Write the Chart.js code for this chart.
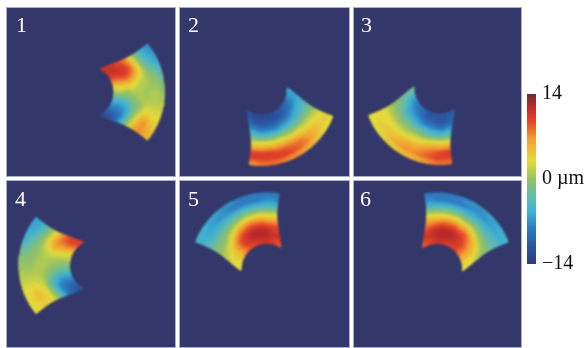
<!DOCTYPE html>
<html><head><meta charset="utf-8">
<script src="https://cdn.jsdelivr.net/npm/chart.js@4"></script>
<style>
html,body{margin:0;padding:0;background:#fff;width:586px;height:348px;overflow:hidden}
.panel{position:absolute;background:#34376a;box-shadow:0 0 0 1px #a9aed2;overflow:hidden}
.panel canvas{position:absolute;left:0;top:0;filter:blur(0.8px)}
.num{position:absolute;color:#fff;font:22px "Liberation Serif",serif;line-height:22px}
#cb{position:absolute;left:515px;top:76px}
</style></head><body>
<script>
// Displacement in micrometres. Rows run from the inner arc to the outer arc, columns across the sector.
const panel1Values=[
[11,11,10,7,3,1,-3,-6,-8,-10,-12],
[11,11,10,7,4,1,-3,-6,-8,-9,-11],
[10,11,10,7,3,0,-2,-5,-7,-8,-9],
[9,10,9,6,3,1,-1,-3,-5,-5,-5],
[7,8,7,4,2,1,0,-1,-1,-1,-1],
[3,4,4,2,1,1,1,0,1,3,4],
[-1,0,1,1,1,0,1,2,4,6,6],
[-4,-3,-2,0,0,1,1,2,4,7,7],
[-6,-5,-3,-1,0,1,1,2,3,5,6],
[-7,-6,-5,-3,-1,0,1,2,3,4,5]];
const panel2Values=[
[-6,-7,-9,-10,-11,-11,-12,-12,-12,-12,-11],
[-6,-7,-8,-9,-10,-11,-11,-11,-11,-11,-10],
[-5,-5,-6,-7,-8,-8,-9,-9,-9,-9,-8],
[-4,-4,-4,-5,-5,-5,-6,-6,-6,-6,-5],
[-2,-2,-2,-2,-2,-1,-1,-2,-2,-2,-2],
[0,1,1,2,2,2,3,3,3,3,3],
[2,3,3,4,5,6,6,6,6,6,6],
[3,4,5,6,8,8,9,9,10,10,10],
[4,4,5,7,8,9,10,10,10,10,10],
[3,3,4,5,6,7,7,8,8,8,7]];
const panel3Values=[
[-10,-11,-11,-11,-11,-10,-9,-8,-7,-5,-2],
[-10,-11,-11,-10,-10,-9,-8,-7,-6,-4,-2],
[-8,-9,-9,-8,-8,-7,-6,-6,-5,-3,-2],
[-5,-6,-5,-5,-4,-4,-4,-3,-3,-2,-1],
[-2,-2,-2,-2,-1,-1,-1,-1,-1,0,0],
[3,3,3,2,2,2,1,1,1,1,1],
[6,6,6,5,4,4,3,3,3,3,3],
[10,9,8,7,6,6,5,4,4,3,3],
[10,10,9,8,7,7,6,5,4,4,3],
[8,8,7,6,5,5,4,4,3,3,3]];
const panel4Values=[
[-11,-10,-8,-6,-3,-1,1,3,6,9,10],
[-10,-9,-8,-6,-3,-1,1,3,6,9,10],
[-8,-8,-7,-5,-2,0,1,3,6,8,9],
[-4,-5,-5,-3,-1,0,1,3,6,7,7],
[0,-1,-2,-1,0,1,1,2,4,5,4],
[3,3,2,1,1,1,1,1,2,2,1],
[4,4,3,2,1,1,0,0,0,-1,-2],
[4,5,4,2,1,0,0,-1,-2,-3,-4],
[3,4,3,2,1,0,-1,-2,-3,-5,-6],
[3,3,3,2,1,0,-1,-3,-5,-6,-6]];
const panel5Values=[
[3,3,5,7,9,10,10,11,11,10,9],
[3,4,5,8,10,11,12,12,12,11,11],
[2,3,5,8,10,11,12,12,12,11,10],
[1,2,3,6,8,9,10,10,10,9,9],
[0,0,1,3,5,6,7,7,7,6,6],
[-1,-1,-1,0,1,2,3,3,3,3,3],
[-3,-3,-3,-3,-2,-2,-1,-1,-1,-1,-1],
[-4,-5,-5,-5,-5,-5,-5,-5,-5,-5,-5],
[-5,-6,-6,-7,-7,-8,-8,-8,-8,-7,-7],
[-5,-5,-6,-6,-7,-7,-8,-8,-8,-8,-8]];
const panel6Values=[
[9,10,11,11,10,10,10,8,6,4,3],
[11,11,12,12,12,11,10,9,6,4,3],
[10,11,12,12,12,11,10,8,6,4,2],
[8,9,10,10,10,9,9,7,5,3,1],
[6,6,7,7,7,6,6,4,2,1,0],
[3,3,3,3,3,2,2,1,0,-1,-1],
[-1,-1,-1,-1,-1,-2,-2,-2,-3,-3,-3],
[-5,-5,-5,-5,-5,-5,-5,-5,-5,-4,-4],
[-7,-8,-8,-8,-8,-7,-7,-7,-6,-6,-5],
[-8,-8,-8,-8,-7,-7,-7,-6,-6,-5,-5]];
const panelLabels=["1","2","3","4","5","6"];
const colorbarTicks=[-14,0,14];
const colorbarLabels=["\u221214","0 \u00b5m","14"];
const colorStops=[-14,-11,-8,-5.5,-3,0,3,6.5,9.5,12,14];
const colorHex=["#2c3a7c","#2c55a0","#2f7cc0","#3eb0d6","#62bcae","#95c265","#e6dd3c","#f5a030","#e4442a","#b82a2a","#6a2c30"];

// Layout
const panelValues=[panel1Values,panel2Values,panel3Values,panel4Values,panel5Values,panel6Values];
const boxes=[[7,8,168,168],[180,8,169,168],[354,8,167,168],[7,181,168,166],[180,181,169,166],[354,181,167,166]];
const centres=[[88,92,0],[261.4,89,60],[440,88,120],[95.5,265.5,180],[267,269.4,240],[436.8,269.5,300]];
const labelAt=[[16,14],[188,14],[361,14],[15,188],[188,188],[360,188]];
const rInner=26,rOuter=76.5,subRows=3,subCols=2;

function rgb(h){return [1,3,5].map(i=>parseInt(h.substr(i,2),16));}
function colourOf(v){
  for(let i=1;i<colorStops.length;i++){ if(v<=colorStops[i]){
    const f=(v-colorStops[i-1])/(colorStops[i]-colorStops[i-1]);
    const a=rgb(colorHex[i-1]),b=rgb(colorHex[i]);
    return `rgb(${a.map((c,k)=>Math.round(c+(b[k]-c)*f)).join(",")})`;
  }}
  return colorHex[colorHex.length-1];
}
function halfAngle(t){return 39+23.5*Math.pow(1-t,3.4);}
function point(c,t,s){
  const r=rInner+(rOuter-rInner)*t;
  const a=(c[2]+s*halfAngle(t))*Math.PI/180;
  return {x:c[0]+r*Math.cos(a),y:c[1]+r*Math.sin(a)};
}
// Colour shading between the read values, as a shaded surface does
function shade(vals,u,w){
  const R=vals.length,C=vals[0].length;
  const ri=Math.min(R-1,Math.max(0,u*R-.5)),ci=Math.min(C-1,Math.max(0,w*C-.5));
  const r0=Math.floor(ri),c0=Math.floor(ci),r1=Math.min(R-1,r0+1),c1=Math.min(C-1,c0+1),fr=ri-r0,fc=ci-c0;
  return (vals[r0][c0]*(1-fc)+vals[r0][c1]*fc)*(1-fr)+(vals[r1][c0]*(1-fc)+vals[r1][c1]*fc)*fr;
}
panelValues.forEach((vals,p)=>{
  const b=boxes[p],c=centres[p];
  const div=document.createElement("div");div.className="panel";
  div.style.cssText=`left:${b[0]}px;top:${b[1]}px;width:${b[2]}px;height:${b[3]}px`;
  const cv=document.createElement("canvas");cv.width=b[2];cv.height=b[3];cv.style.width=b[2]+"px";cv.style.height=b[3]+"px";
  div.appendChild(cv);document.body.appendChild(div);
  const n=document.createElement("div");n.className="num";n.textContent=panelLabels[p];
  n.style.left=labelAt[p][0]+"px";n.style.top=labelAt[p][1]+"px";document.body.appendChild(n);
  const rows=vals.length*subRows,cols=vals[0].length*subCols,ds=[];
  for(let i=0;i<rows;i++)for(let j=0;j<cols;j++){
    const t0=i/rows,t1=(i+1)/rows,s0=-1+2*j/cols,s1=-1+2*(j+1)/cols;
    const pts=[point(c,t0,s0),point(c,t0,s1),point(c,t1,s1),point(c,t1,s0),point(c,t0,s0)];
    const col=colourOf(shade(vals,(i+.5)/rows,(j+.5)/cols));
    ds.push({data:pts,showLine:true,fill:"shape",backgroundColor:col,borderColor:col,borderWidth:1,pointRadius:0,tension:0});
  }
  new Chart(cv,{type:"scatter",data:{datasets:ds},options:{responsive:false,animation:false,events:[],
    layout:{padding:0},
    plugins:{legend:{display:false},tooltip:{enabled:false},title:{display:false}},
    scales:{x:{type:"linear",display:false,min:b[0],max:b[0]+b[2]},
            y:{type:"linear",display:false,reverse:true,min:b[1],max:b[1]+b[3]}}}});
});
// Colour bar
const cb=document.createElement("canvas");cb.id="cb";cb.width=71;cb.height=206;cb.style.width="71px";cb.style.height="206px";
document.body.appendChild(cb);
new Chart(cb,{type:"bar",data:{labels:["\u00b5m"],datasets:[{data:[[colorbarTicks[0],colorbarTicks[2]]],barPercentage:1,categoryPercentage:1,
  backgroundColor(ctx){
    const ch=ctx.chart;if(!ch.chartArea)return colorHex[5];
    const s=ch.scales.y,y0=s.getPixelForValue(-14),y1=s.getPixelForValue(14);
    const g=ch.ctx.createLinearGradient(0,y0,0,y1);
    colorStops.forEach((v,i)=>g.addColorStop((v+14)/28,colorHex[i]));
    return g;
  }}]},
  options:{responsive:false,animation:false,events:[],layout:{padding:{top:10,bottom:14,left:12,right:0}},
   plugins:{legend:{display:false},tooltip:{enabled:false}},
   scales:{x:{display:false},
    y:{position:"right",min:-14,max:14,border:{display:false},grid:{display:false,drawTicks:false},
       afterFit(s){s.width=50;},
       afterBuildTicks(s){s.ticks=colorbarTicks.map(v=>({value:v}));},
       ticks:{autoSkip:false,padding:6,color:"#111",font:{family:"Liberation Serif",size:20},
         callback(v){return colorbarLabels[colorbarTicks.indexOf(v)];}}}}}});
</script>
</body></html>
